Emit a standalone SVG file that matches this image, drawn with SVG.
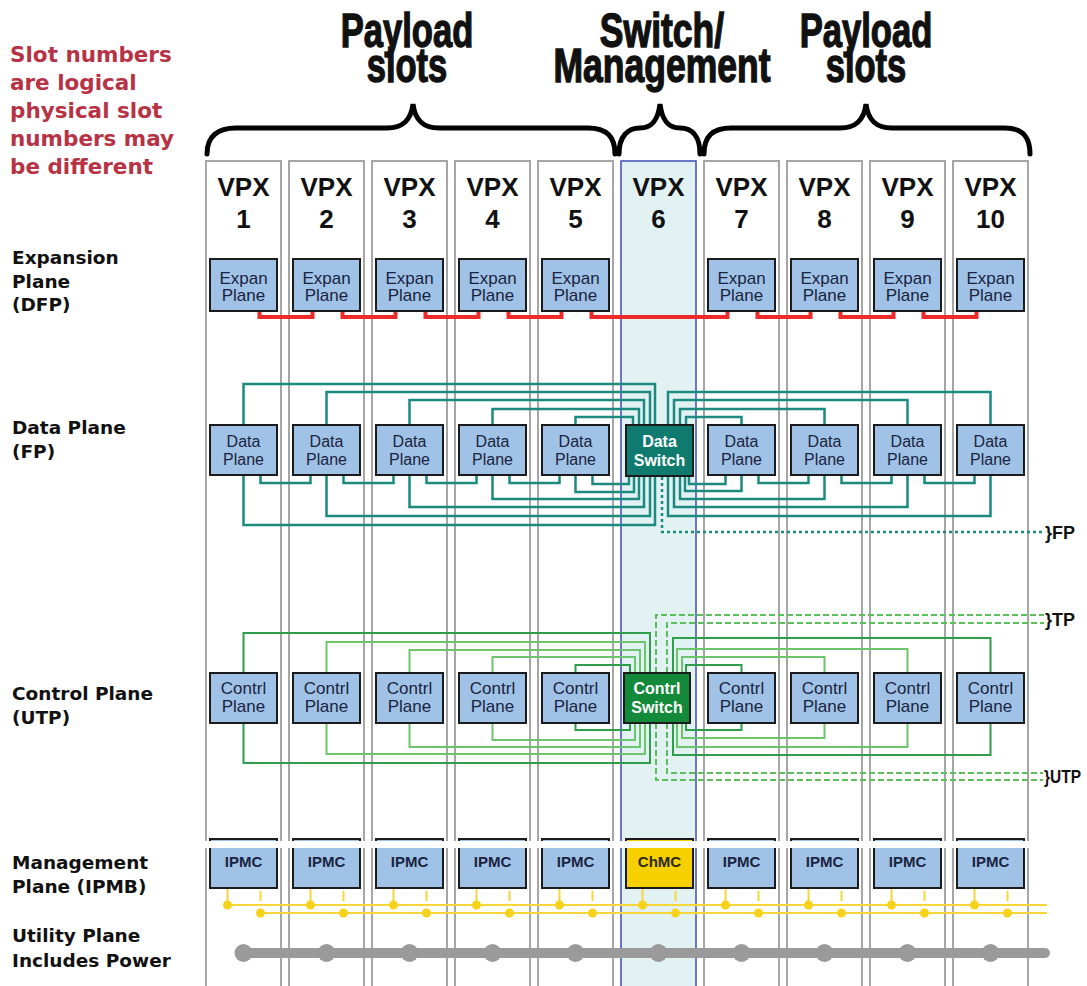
<svg xmlns="http://www.w3.org/2000/svg" width="1087" height="986" viewBox="0 0 1087 986">
<style>
.col{fill:#fff;stroke:#a6a6a6;stroke-width:2}
.col6{fill:#e2f2f3;stroke:#3a4db5;stroke-width:1.5}
.box{fill:#a0c2e6;stroke:#1b1b1b;stroke-width:2}
.bt{font-family:"Liberation Sans",Arial,sans-serif;font-size:16px;fill:#1a2440;text-anchor:middle}
.et{font-size:17px}
.mt{font-family:"Liberation Sans",Arial,sans-serif;font-size:15px;font-weight:bold;fill:#1a2440;text-anchor:middle}
.st{font-family:"Liberation Sans",Arial,sans-serif;font-size:16px;font-weight:bold;fill:#fff;text-anchor:middle}
.vpx{font-family:"Liberation Sans",Arial,sans-serif;font-size:26px;font-weight:bold;fill:#111;text-anchor:middle}
.lab{font-family:"DejaVu Sans",sans-serif;font-size:18.5px;font-weight:bold;fill:#111}
.red{font-family:"DejaVu Sans",sans-serif;font-size:21.5px;font-weight:bold;fill:#b83245}
.title{font-family:"Liberation Sans",Arial,sans-serif;font-size:48px;font-weight:bold;fill:#111;stroke:#111;stroke-width:1.4;text-anchor:middle}
.tag{font-family:"Liberation Sans",Arial,sans-serif;font-size:18px;font-weight:bold;fill:#111}
.brace{fill:none;stroke:#000;stroke-width:5;stroke-linecap:round}
.rl{fill:none;stroke:#ee2a2a;stroke-width:4}
.tl{fill:none;stroke:#1c8a7f;stroke-width:2.5}
.gd{fill:none;stroke:#2f9e4a;stroke-width:2}
.gl{fill:none;stroke:#6cc56c;stroke-width:2}
.dash{fill:none;stroke:#5cbf5c;stroke-width:2;stroke-dasharray:6,3}
.dot{fill:none;stroke:#1c8a7f;stroke-width:2.5;stroke-dasharray:3,3}
.yl{fill:none;stroke:#f7d63a;stroke-width:2}
.yd{fill:#f7d21a}
.gy{fill:#9a9a9a}
</style>

<!-- left notes -->
<g id="note">
<text class="red" x="10" y="62">Slot numbers</text>
<text class="red" x="10" y="90">are logical</text>
<text class="red" x="10" y="118">physical slot</text>
<text class="red" x="10" y="146">numbers may</text>
<text class="red" x="10" y="174">be different</text>
</g>
<g id="plane-labels">
<text class="lab" x="12" y="264">Expansion</text>
<text class="lab" x="12" y="288">Plane</text>
<text class="lab" x="12" y="311">(DFP)</text>
<text class="lab" x="12" y="434">Data Plane</text>
<text class="lab" x="12" y="458">(FP)</text>
<text class="lab" x="12" y="700">Control Plane</text>
<text class="lab" x="12" y="724">(UTP)</text>
<text class="lab" x="12" y="869">Management</text>
<text class="lab" x="12" y="893">Plane (IPMB)</text>
<text class="lab" x="12" y="942">Utility Plane</text>
<text class="lab" x="12" y="967">Includes Power</text>
</g>

<!-- titles and braces -->
<g id="titles">
<text class="title" transform="translate(407,47) scale(0.72,1)"><tspan x="0" y="0">Payload</tspan><tspan x="0" y="35">slots</tspan></text>
<text class="title" transform="translate(662,47) scale(0.74,1)"><tspan x="0" y="0">Switch/</tspan><tspan x="0" y="35">Management</tspan></text>
<text class="title" transform="translate(866,47) scale(0.72,1)"><tspan x="0" y="0">Payload</tspan><tspan x="0" y="35">slots</tspan></text>
<path class="brace" d="M207,154 C207,136 218,128 236,128 L387,128 C403,128 411,120 413,104 C415,120 423,128 439,128 L588,128 C606,128 615,136 615,154"/>
<path class="brace" d="M619,154 C619,136 628,128 640,128 C652,128 658,120 660,104 C662,120 668,128 680,128 C692,128 700,136 700,154"/>
<path class="brace" d="M704,154 C704,136 713,128 731,128 L840,128 C856,128 864,120 866,104 C868,120 876,128 892,128 L1005,128 C1022,128 1030,136 1030,154"/>
</g>

<!-- slot columns -->
<g id="slots">
<rect class="col" x="206" y="161" width="75" height="830"/>
<rect class="col" x="289" y="161" width="75" height="830"/>
<rect class="col" x="372" y="161" width="75" height="830"/>
<rect class="col" x="455" y="161" width="75" height="830"/>
<rect class="col" x="538" y="161" width="75" height="830"/>
<rect class="col6" x="621" y="161" width="75" height="830"/>
<rect class="col" x="704" y="161" width="75" height="830"/>
<rect class="col" x="787" y="161" width="75" height="830"/>
<rect class="col" x="870" y="161" width="75" height="830"/>
<rect class="col" x="953" y="161" width="75" height="830"/>
<text class="vpx" x="243.5" y="196">VPX</text><text class="vpx" x="243.5" y="228">1</text>
<text class="vpx" x="326.5" y="196">VPX</text><text class="vpx" x="326.5" y="228">2</text>
<text class="vpx" x="409.5" y="196">VPX</text><text class="vpx" x="409.5" y="228">3</text>
<text class="vpx" x="492.5" y="196">VPX</text><text class="vpx" x="492.5" y="228">4</text>
<text class="vpx" x="575.5" y="196">VPX</text><text class="vpx" x="575.5" y="228">5</text>
<text class="vpx" x="658.5" y="196">VPX</text><text class="vpx" x="658.5" y="228">6</text>
<text class="vpx" x="741.5" y="196">VPX</text><text class="vpx" x="741.5" y="228">7</text>
<text class="vpx" x="824.5" y="196">VPX</text><text class="vpx" x="824.5" y="228">8</text>
<text class="vpx" x="907.5" y="196">VPX</text><text class="vpx" x="907.5" y="228">9</text>
<text class="vpx" x="990.5" y="196">VPX</text><text class="vpx" x="990.5" y="228">10</text>
</g>

<!-- connectors -->
<g id="connectors">
<!-- expansion plane -->
<path class="rl" d="M259.5,311 V317 H312.5 V311"/>
<path class="rl" d="M342.5,311 V317 H395.5 V311"/>
<path class="rl" d="M425.5,311 V317 H478.5 V311"/>
<path class="rl" d="M508.5,311 V317 H561.5 V311"/>
<path class="rl" d="M591.5,311 V317 H727.5 V311"/>
<path class="rl" d="M757.5,311 V317 H810.5 V311"/>
<path class="rl" d="M840.5,311 V317 H893.5 V311"/>
<path class="rl" d="M923.5,311 V317 H976.5 V311"/>
<!-- data plane neighbours -->
<path class="tl" d="M260.5,475 V483 H310.5 V475"/>
<path class="tl" d="M343.5,475 V483 H393.5 V475"/>
<path class="tl" d="M426.5,475 V483 H476.5 V475"/>
<path class="tl" d="M509.5,475 V483 H559.5 V475"/>
<path class="tl" d="M758.5,475 V483 H808.5 V475"/>
<path class="tl" d="M841.5,475 V483 H891.5 V475"/>
<path class="tl" d="M924.5,475 V483 H974.5 V475"/>
<!-- data plane to switch, top -->
<path class="tl" d="M243.5,425 V384 H655 V425"/>
<path class="tl" d="M326.5,425 V392 H650 V425"/>
<path class="tl" d="M409.5,425 V400 H644 V425"/>
<path class="tl" d="M492.5,425 V409 H639 V425"/>
<path class="tl" d="M575.5,425 V417 H633 V425"/>
<path class="tl" d="M741.5,425 V417 H686 V425"/>
<path class="tl" d="M824.5,425 V409 H680 V425"/>
<path class="tl" d="M907.5,425 V400 H674 V425"/>
<path class="tl" d="M990.5,425 V392 H668 V425"/>
<!-- data plane to switch, bottom -->
<path class="tl" d="M243.5,475 V525 H655 V476"/>
<path class="tl" d="M326.5,475 V516 H650 V476"/>
<path class="tl" d="M409.5,475 V507 H644 V476"/>
<path class="tl" d="M492.5,475 V499 H639 V476"/>
<path class="tl" d="M575.5,475 V492 H634 V476"/>
<path class="tl" d="M592.5,475 V484 H629 V476"/>
<path class="tl" d="M725.5,475 V484 H689 V476"/>
<path class="tl" d="M741.5,475 V491 H685 V476"/>
<path class="tl" d="M824.5,475 V499 H680 V476"/>
<path class="tl" d="M907.5,475 V507 H674 V476"/>
<path class="tl" d="M990.5,475 V516 H668 V476"/>
<path class="dot" d="M662,477 V532 H1043"/>
<!-- control plane top -->
<path class="gd" d="M243.5,673 V633 H650 V673"/>
<path class="gl" d="M326.5,673 V642 H645 V673"/>
<path class="gl" d="M409.5,673 V650 H640 V673"/>
<path class="gl" d="M492.5,673 V657 H635 V673"/>
<path class="gd" d="M575.5,673 V665 H630 V673"/>
<path class="gd" d="M741.5,673 V665 H686 V673"/>
<path class="gl" d="M824.5,673 V657 H682 V673"/>
<path class="gl" d="M907.5,673 V649 H677 V673"/>
<path class="gd" d="M990.5,673 V638 H673 V673"/>
<!-- control plane bottom -->
<path class="gd" d="M243.5,723 V763 H650 V723"/>
<path class="gl" d="M326.5,723 V754 H645 V723"/>
<path class="gl" d="M409.5,723 V747 H640 V723"/>
<path class="gl" d="M492.5,723 V740 H635 V723"/>
<path class="gd" d="M575.5,723 V730 H630 V723"/>
<path class="gd" d="M741.5,723 V730 H686 V723"/>
<path class="gl" d="M824.5,723 V738 H682 V723"/>
<path class="gl" d="M907.5,723 V747 H677 V723"/>
<path class="gd" d="M990.5,723 V755 H673 V723"/>
<!-- TP / UTP -->
<path class="dash" d="M656,673 V615 H1044"/>
<path class="dash" d="M667,673 V623 H1044"/>
<path class="dash" d="M667,723 V773 H1043"/>
<path class="dash" d="M656,723 V780 H1043"/>
<!-- IPMB -->
<path class="yl" d="M227.5,905 H1047 M260.5,913 H1047"/>
<path class="yl" d="M227.5,888 V905 M260.5,891 V901 M310.5,888 V905 M343.5,891 V901 M393.5,888 V905 M426.5,891 V901 M476.5,888 V905 M509.5,891 V901 M559.5,888 V905 M592.5,891 V901 M642.5,888 V905 M675.5,891 V901 M725.5,888 V905 M758.5,891 V901 M808.5,888 V905 M841.5,891 V901 M891.5,888 V905 M924.5,891 V901 M974.5,888 V905 M1007.5,891 V901"/>
<g class="yd">
<circle cx="227.5" cy="905" r="4.5"/><circle cx="260.5" cy="913" r="4.5"/>
<circle cx="310.5" cy="905" r="4.5"/><circle cx="343.5" cy="913" r="4.5"/>
<circle cx="393.5" cy="905" r="4.5"/><circle cx="426.5" cy="913" r="4.5"/>
<circle cx="476.5" cy="905" r="4.5"/><circle cx="509.5" cy="913" r="4.5"/>
<circle cx="559.5" cy="905" r="4.5"/><circle cx="592.5" cy="913" r="4.5"/>
<circle cx="642.5" cy="905" r="4.5"/><circle cx="675.5" cy="913" r="4.5"/>
<circle cx="725.5" cy="905" r="4.5"/><circle cx="758.5" cy="913" r="4.5"/>
<circle cx="808.5" cy="905" r="4.5"/><circle cx="841.5" cy="913" r="4.5"/>
<circle cx="891.5" cy="905" r="4.5"/><circle cx="924.5" cy="913" r="4.5"/>
<circle cx="974.5" cy="905" r="4.5"/><circle cx="1007.5" cy="913" r="4.5"/>
</g>
<!-- utility / power -->
<path d="M243.5,953 H1045" stroke="#9a9a9a" stroke-width="10" stroke-linecap="round" fill="none"/>
<g class="gy">
<circle cx="243.5" cy="953" r="9"/><circle cx="326.5" cy="953" r="9"/><circle cx="409.5" cy="953" r="9"/><circle cx="492.5" cy="953" r="9"/><circle cx="575.5" cy="953" r="9"/>
<circle cx="658.5" cy="953" r="9"/><circle cx="741.5" cy="953" r="9"/><circle cx="824.5" cy="953" r="9"/><circle cx="907.5" cy="953" r="9"/><circle cx="990.5" cy="953" r="9"/>
</g>
</g>

<g id="tags">
<text class="tag" x="1045" y="539" textLength="30" lengthAdjust="spacingAndGlyphs">}FP</text>
<text class="tag" x="1045" y="626" textLength="30" lengthAdjust="spacingAndGlyphs">}TP</text>
<text class="tag" x="1044" y="783" textLength="37" lengthAdjust="spacingAndGlyphs">}UTP</text>
</g>

<!-- expansion plane nodes -->
<g id="expan-1"><rect class="box" x="210" y="259" width="67" height="52"/><text class="bt et" x="243.5" y="284">Expan</text><text class="bt et" x="243.5" y="301">Plane</text></g>
<g id="expan-2"><rect class="box" x="293" y="259" width="67" height="52"/><text class="bt et" x="326.5" y="284">Expan</text><text class="bt et" x="326.5" y="301">Plane</text></g>
<g id="expan-3"><rect class="box" x="376" y="259" width="67" height="52"/><text class="bt et" x="409.5" y="284">Expan</text><text class="bt et" x="409.5" y="301">Plane</text></g>
<g id="expan-4"><rect class="box" x="459" y="259" width="67" height="52"/><text class="bt et" x="492.5" y="284">Expan</text><text class="bt et" x="492.5" y="301">Plane</text></g>
<g id="expan-5"><rect class="box" x="542" y="259" width="67" height="52"/><text class="bt et" x="575.5" y="284">Expan</text><text class="bt et" x="575.5" y="301">Plane</text></g>
<g id="expan-7"><rect class="box" x="708" y="259" width="67" height="52"/><text class="bt et" x="741.5" y="284">Expan</text><text class="bt et" x="741.5" y="301">Plane</text></g>
<g id="expan-8"><rect class="box" x="791" y="259" width="67" height="52"/><text class="bt et" x="824.5" y="284">Expan</text><text class="bt et" x="824.5" y="301">Plane</text></g>
<g id="expan-9"><rect class="box" x="874" y="259" width="67" height="52"/><text class="bt et" x="907.5" y="284">Expan</text><text class="bt et" x="907.5" y="301">Plane</text></g>
<g id="expan-10"><rect class="box" x="957" y="259" width="67" height="52"/><text class="bt et" x="990.5" y="284">Expan</text><text class="bt et" x="990.5" y="301">Plane</text></g>

<!-- data plane nodes -->
<g id="data-1"><rect class="box" x="210" y="425" width="67" height="50"/><text class="bt" x="243.5" y="447">Data</text><text class="bt" x="243.5" y="465">Plane</text></g>
<g id="data-2"><rect class="box" x="293" y="425" width="67" height="50"/><text class="bt" x="326.5" y="447">Data</text><text class="bt" x="326.5" y="465">Plane</text></g>
<g id="data-3"><rect class="box" x="376" y="425" width="67" height="50"/><text class="bt" x="409.5" y="447">Data</text><text class="bt" x="409.5" y="465">Plane</text></g>
<g id="data-4"><rect class="box" x="459" y="425" width="67" height="50"/><text class="bt" x="492.5" y="447">Data</text><text class="bt" x="492.5" y="465">Plane</text></g>
<g id="data-5"><rect class="box" x="542" y="425" width="67" height="50"/><text class="bt" x="575.5" y="447">Data</text><text class="bt" x="575.5" y="465">Plane</text></g>
<g id="data-switch"><rect x="626" y="425" width="67" height="51" fill="#0f7b6f" stroke="#1b1b1b" stroke-width="2"/><text class="st" x="659.5" y="447">Data</text><text class="st" x="659.5" y="466">Switch</text></g>
<g id="data-7"><rect class="box" x="708" y="425" width="67" height="50"/><text class="bt" x="741.5" y="447">Data</text><text class="bt" x="741.5" y="465">Plane</text></g>
<g id="data-8"><rect class="box" x="791" y="425" width="67" height="50"/><text class="bt" x="824.5" y="447">Data</text><text class="bt" x="824.5" y="465">Plane</text></g>
<g id="data-9"><rect class="box" x="874" y="425" width="67" height="50"/><text class="bt" x="907.5" y="447">Data</text><text class="bt" x="907.5" y="465">Plane</text></g>
<g id="data-10"><rect class="box" x="957" y="425" width="67" height="50"/><text class="bt" x="990.5" y="447">Data</text><text class="bt" x="990.5" y="465">Plane</text></g>

<!-- control plane nodes -->
<g id="ctrl-1"><rect class="box" x="210" y="673" width="67" height="50"/><text class="bt et" x="243.5" y="694">Contrl</text><text class="bt et" x="243.5" y="712">Plane</text></g>
<g id="ctrl-2"><rect class="box" x="293" y="673" width="67" height="50"/><text class="bt et" x="326.5" y="694">Contrl</text><text class="bt et" x="326.5" y="712">Plane</text></g>
<g id="ctrl-3"><rect class="box" x="376" y="673" width="67" height="50"/><text class="bt et" x="409.5" y="694">Contrl</text><text class="bt et" x="409.5" y="712">Plane</text></g>
<g id="ctrl-4"><rect class="box" x="459" y="673" width="67" height="50"/><text class="bt et" x="492.5" y="694">Contrl</text><text class="bt et" x="492.5" y="712">Plane</text></g>
<g id="ctrl-5"><rect class="box" x="542" y="673" width="67" height="50"/><text class="bt et" x="575.5" y="694">Contrl</text><text class="bt et" x="575.5" y="712">Plane</text></g>
<g id="ctrl-switch"><rect x="624" y="673" width="66" height="50" fill="#13893a" stroke="#1b1b1b" stroke-width="2"/><text class="st" x="657" y="694">Contrl</text><text class="st" x="657" y="713">Switch</text></g>
<g id="ctrl-7"><rect class="box" x="708" y="673" width="67" height="50"/><text class="bt et" x="741.5" y="694">Contrl</text><text class="bt et" x="741.5" y="712">Plane</text></g>
<g id="ctrl-8"><rect class="box" x="791" y="673" width="67" height="50"/><text class="bt et" x="824.5" y="694">Contrl</text><text class="bt et" x="824.5" y="712">Plane</text></g>
<g id="ctrl-9"><rect class="box" x="874" y="673" width="67" height="50"/><text class="bt et" x="907.5" y="694">Contrl</text><text class="bt et" x="907.5" y="712">Plane</text></g>
<g id="ctrl-10"><rect class="box" x="957" y="673" width="67" height="50"/><text class="bt et" x="990.5" y="694">Contrl</text><text class="bt et" x="990.5" y="712">Plane</text></g>

<!-- management nodes -->
<g id="ipmc-1"><rect class="box" x="210" y="839" width="67" height="49"/><text class="mt" x="243.5" y="867">IPMC</text></g>
<g id="ipmc-2"><rect class="box" x="293" y="839" width="67" height="49"/><text class="mt" x="326.5" y="867">IPMC</text></g>
<g id="ipmc-3"><rect class="box" x="376" y="839" width="67" height="49"/><text class="mt" x="409.5" y="867">IPMC</text></g>
<g id="ipmc-4"><rect class="box" x="459" y="839" width="67" height="49"/><text class="mt" x="492.5" y="867">IPMC</text></g>
<g id="ipmc-5"><rect class="box" x="542" y="839" width="67" height="49"/><text class="mt" x="575.5" y="867">IPMC</text></g>
<g id="chmc-6"><rect x="626" y="839" width="67" height="49" fill="#f7d000" stroke="#1b1b1b" stroke-width="2"/><text class="mt" x="659.5" y="867" style="fill:#2a2a10">ChMC</text></g>
<g id="ipmc-7"><rect class="box" x="708" y="839" width="67" height="49"/><text class="mt" x="741.5" y="867">IPMC</text></g>
<g id="ipmc-8"><rect class="box" x="791" y="839" width="67" height="49"/><text class="mt" x="824.5" y="867">IPMC</text></g>
<g id="ipmc-9"><rect class="box" x="874" y="839" width="67" height="49"/><text class="mt" x="907.5" y="867">IPMC</text></g>
<g id="ipmc-10"><rect class="box" x="957" y="839" width="67" height="49"/><text class="mt" x="990.5" y="867">IPMC</text></g>

<rect x="200" y="841" width="835" height="7" fill="#fff"/>
</svg>
